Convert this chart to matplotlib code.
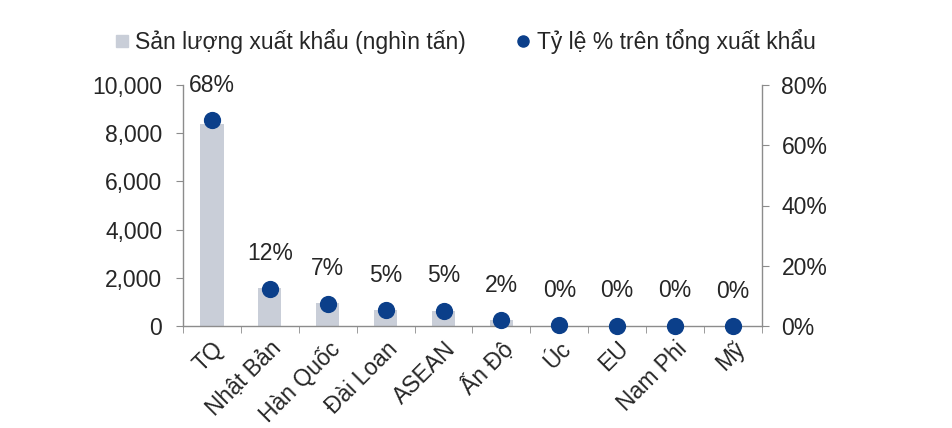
import matplotlib
matplotlib.use("Agg")
import matplotlib.pyplot as plt
from matplotlib.ticker import FuncFormatter, FixedLocator
from matplotlib.lines import Line2D
import numpy as np

plt.rcParams['font.family'] = ['Liberation Sans', 'DejaVu Sans']

categories = ["TQ", "Nhật Bản", "Hàn Quốc", "Đài Loan", "ASEAN", "Ấn Độ", "Úc", "EU", "Nam Phi", "Mỹ"]
volume = [8400, 1580, 940, 660, 635, 250, 20, 15, 10, 5]
share = [68.4, 12.4, 7.4, 5.3, 5.1, 2.0, 0.2, 0.1, 0.1, 0.0]
share_labels = ["68%", "12%", "7%", "5%", "5%", "2%", "0%", "0%", "0%", "0%"]

bar_color = "#c9ced8"
dot_color = "#0b3f8a"
axis_color = "#8c8c8c"
text_color = "#262626"
fs = 16.5

fig = plt.figure(figsize=(9.52, 4.28), dpi=100)
ax = fig.add_axes([183/952, 1-326/428, (762-183)/952, (326-85)/428])
x = np.arange(len(categories))
ax.bar(x, volume, width=0.4, color=bar_color, zorder=2)
ax.set_xlim(-0.5, len(categories)-0.5)
ax.set_ylim(0, 10000)
ax.set_yticks(np.arange(0, 10001, 2000))
ax.yaxis.set_major_formatter(FuncFormatter(lambda v, p: f"{int(v):,}"))

ax2 = ax.twinx()
ax2.scatter(x, share, s=130, color=dot_color, zorder=3, clip_on=False)
ax2.set_ylim(0, 80)
ax2.set_yticks(np.arange(0, 81, 20))
ax2.yaxis.set_major_formatter(FuncFormatter(lambda v, p: f"{int(v)}%"))
for xi, yi, lab in zip(x, share, share_labels):
    ax2.annotate(lab, (xi, yi), xytext=(0, 25), textcoords="offset points",
                 ha="center", va="center", fontsize=fs, color=text_color)

for a in (ax, ax2):
    a.spines['top'].set_visible(False)
    for s in ('left', 'right', 'bottom'):
        a.spines[s].set_color(axis_color)
        a.spines[s].set_linewidth(1.0)
ax.spines['right'].set_visible(False)
ax2.spines['left'].set_visible(False)
ax2.spines['bottom'].set_visible(False)

ax.set_xticks(x)
ax.set_xticklabels(categories, rotation=45, ha="right", rotation_mode="anchor",
                   fontsize=fs, color=text_color)
ax.tick_params(axis='x', which='major', length=0, pad=8)
ax.xaxis.set_minor_locator(FixedLocator(np.arange(-0.5, len(categories), 1.0)))
ax.tick_params(axis='x', which='minor', length=5, color=axis_color, direction='out')
ax.tick_params(axis='y', length=5, color=axis_color, labelsize=fs, labelcolor=text_color, pad=10)
ax2.tick_params(axis='y', length=5, color=axis_color, labelsize=fs, labelcolor=text_color, pad=9)

handles = [Line2D([], [], marker='s', linestyle='none', markersize=8, color=bar_color,
                  label="Sản lượng xuất khẩu (nghìn tấn)"),
           Line2D([], [], marker='o', linestyle='none', markersize=8, color=dot_color,
                  label="Tỷ lệ % trên tổng xuất khẩu")]
fig.legend(handles=handles, loc="center", bbox_to_anchor=(463/952, 1-42/428), ncol=2,
           frameon=False, fontsize=fs, handletextpad=0.1, columnspacing=2.0,
           labelcolor=text_color, handlelength=1.0)

fig.savefig("out.png", dpi=100)
